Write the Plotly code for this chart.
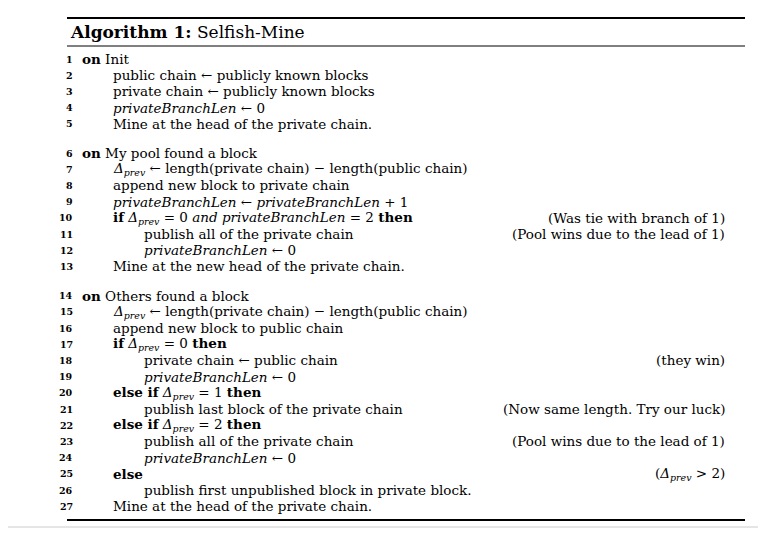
import plotly.graph_objects as go

D = "<i>Δ</i><sub><i>prev</i></sub>"
PBL = "<i>privateBranchLen</i>"

title_bold = "Algorithm 1:"
title_rest = "Selfish-Mine"

# (line number, indent level, text, right comment); None = blank spacer
lines = [
    (1, 0, "<b>on</b> Init", ""),
    (2, 1, "public chain ← publicly known blocks", ""),
    (3, 1, "private chain ← publicly known blocks", ""),
    (4, 1, PBL + " ← 0", ""),
    (5, 1, "Mine at the head of the private chain.", ""),
    None,
    (6, 0, "<b>on</b> My pool found a block", ""),
    (7, 1, D + " ← length(private chain) − length(public chain)", ""),
    (8, 1, "append new block to private chain", ""),
    (9, 1, PBL + " ← " + PBL + " + 1", ""),
    (10, 1, "<b>if</b> " + D + " = 0 <i>and</i> " + PBL + " = 2 <b>then</b>", "(Was tie with branch of 1)"),
    (11, 2, "publish all of the private chain", "(Pool wins due to the lead of 1)"),
    (12, 2, PBL + " ← 0", ""),
    (13, 1, "Mine at the new head of the private chain.", ""),
    None,
    (14, 0, "<b>on</b> Others found a block", ""),
    (15, 1, D + " ← length(private chain) − length(public chain)", ""),
    (16, 1, "append new block to public chain", ""),
    (17, 1, "<b>if</b> " + D + " = 0 <b>then</b>", ""),
    (18, 2, "private chain ← public chain", "(they win)"),
    (19, 2, PBL + " ← 0", ""),
    (20, 1, "<b>else if</b> " + D + " = 1 <b>then</b>", ""),
    (21, 2, "publish last block of the private chain", "(Now same length. Try our luck)"),
    (22, 1, "<b>else if</b> " + D + " = 2 <b>then</b>", ""),
    (23, 2, "publish all of the private chain", "(Pool wins due to the lead of 1)"),
    (24, 2, PBL + " ← 0", ""),
    (25, 1, "<b>else</b>", "(" + D + " > 2)"),
    (26, 2, "publish first unpublished block in private block.", ""),
    (27, 1, "Mine at the head of the private chain.", ""),
]

FONT = "DejaVu Serif, Liberation Serif, serif"
OFF = 8  # page margin compensation
fig = go.Figure()
ann = []
y = 59 - OFF
indent_x = [80 - OFF, 111 - OFF, 142 - OFF]
for row in lines:
    if row is None:
        y += 13
        continue
    num, lvl, text, comment = row
    ann.append(dict(x=75 - OFF, y=y, text="<b>%d</b>" % num, xanchor="right",
                    font=dict(size=9.5, family=FONT, color="black")))
    ann.append(dict(x=indent_x[lvl], y=y, text=text, xanchor="left",
                    font=dict(size=13.5, family=FONT, color="black")))
    if comment:
        ann.append(dict(x=727 - OFF, y=y, text=comment, xanchor="right",
                        font=dict(size=13.5, family=FONT, color="black")))
    y += 16.2

ann.append(dict(x=68 - OFF, y=32 - OFF, text="<b>" + title_bold + "</b> " + title_rest, xanchor="left",
                font=dict(size=17, family=FONT, color="black")))
for a in ann:
    a.update(xref="x", yref="y", showarrow=False, yanchor="middle")

shapes = [
    dict(type="line", x0=67, x1=745, y0=18, y1=18, line=dict(color="black", width=2)),
    dict(type="line", x0=67, x1=745, y0=46, y1=46, line=dict(color="black", width=1)),
    dict(type="line", x0=67, x1=745, y0=520, y1=520, line=dict(color="black", width=2)),
    dict(type="line", x0=0, x1=766, y0=527, y1=527, line=dict(color="#cccccc", width=1)),
]
for s in shapes:
    s.update(xref="x", yref="y", x0=s["x0"] - OFF, x1=s["x1"] - OFF,
             y0=s["y0"] - OFF, y1=s["y1"] - OFF)

fig.update_layout(
    width=766, height=533, margin=dict(l=0, r=0, t=0, b=0),
    paper_bgcolor="white", plot_bgcolor="white",
    xaxis=dict(range=[0, 766], visible=False, fixedrange=True),
    yaxis=dict(range=[533, 0], visible=False, fixedrange=True),
    annotations=ann, shapes=shapes, showlegend=False,
)
fig.write_html("out.html")
